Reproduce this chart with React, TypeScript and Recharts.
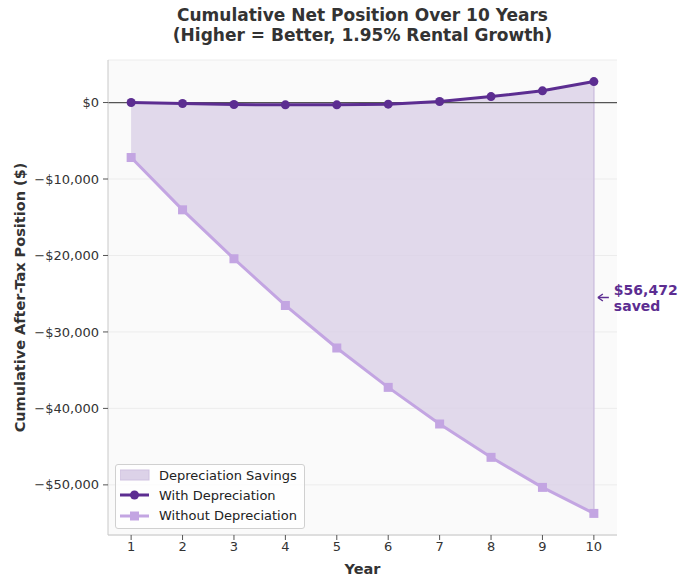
import { ComposedChart, Line, Area, XAxis, YAxis, CartesianGrid, ReferenceLine, ReferenceDot } from 'recharts';

const years = [1, 2, 3, 4, 5, 6, 7, 8, 9, 10];
const withDepreciation = [0, -130, -260, -300, -300, -210, 130, 780, 1530, 2740];
const withoutDepreciation = [-7190, -14030, -20430, -26540, -32100, -37250, -42040, -46400, -50330, -53732];
const yTicks = [0, -10000, -20000, -30000, -40000, -50000];

const DARK = '#5c2d91';
const LIGHT = '#c3a5e2';
const FILL = '#dcd2e8';
const FONT = '"DejaVu Sans", sans-serif';

const data = years.map((year, i) => ({
  year,
  withDep: withDepreciation[i],
  withoutDep: withoutDepreciation[i],
  savings: [withoutDepreciation[i], withDepreciation[i]],
}));

const last = data[data.length - 1];
const saved = last.withDep - last.withoutDep;

const fmtMoney = (v: number) => {
  const s = '$' + Math.abs(v).toLocaleString('en-US');
  return v < 0 ? '\u2212' + s : s;
};

const SquareDot = (props: any) => {
  const { cx, cy, index } = props;
  if (cx == null || cy == null) return null;
  return <rect key={'sq' + index} x={cx - 4.5} y={cy - 4.5} width={9} height={9} fill={LIGHT} />;
};

const SavedNote = (props: any) => {
  const { cx, cy } = props;
  return (
    <g>
      <line x1={cx + 15} y1={cy} x2={cx + 5} y2={cy} stroke={DARK} strokeWidth={1.5} />
      <path d={`M ${cx + 4} ${cy} L ${cx + 9} ${cy - 3.5} M ${cx + 4} ${cy} L ${cx + 9} ${cy + 3.5}`} stroke={DARK} strokeWidth={1.5} fill="none" />
      <text x={cx + 20} y={cy - 3} fill={DARK} fontFamily={FONT} fontSize={14} fontWeight="bold">
        {fmtMoney(saved)}
      </text>
      <text x={cx + 20} y={cy + 13} fill={DARK} fontFamily={FONT} fontSize={14} fontWeight="bold">
        saved
      </text>
    </g>
  );
};

const LegendBox = () => (
  <div
    style={{
      position: 'absolute',
      left: 115,
      top: 464,
      width: 190,
      height: 65,
      background: 'rgba(255,255,255,0.8)',
      border: '1px solid #d0d0d0',
      borderRadius: 3,
      boxSizing: 'border-box',
      fontFamily: FONT,
      fontSize: 13,
      color: '#222',
    }}
  >
    {[
      { label: 'Depreciation Savings', kind: 'patch' },
      { label: 'With Depreciation', kind: 'circle' },
      { label: 'Without Depreciation', kind: 'square' },
    ].map((item, i) => (
      <div key={item.label} style={{ position: 'absolute', left: 4, top: 0 + i * 20.3, height: 20, display: 'flex', alignItems: 'center', whiteSpace: 'nowrap' }}>
        <svg width={30} height={14} style={{ marginRight: 9 }}>
          {item.kind === 'patch' && <rect x={0} y={2} width={29} height={10} fill={FILL} stroke="#cfc2e0" />}
          {item.kind === 'circle' && (
            <>
              <line x1={0} y1={7} x2={29} y2={7} stroke={DARK} strokeWidth={3} />
              <circle cx={14.5} cy={7} r={4.5} fill={DARK} />
            </>
          )}
          {item.kind === 'square' && (
            <>
              <line x1={0} y1={7} x2={29} y2={7} stroke={LIGHT} strokeWidth={3} />
              <rect x={10} y={2.5} width={9} height={9} fill={LIGHT} />
            </>
          )}
        </svg>
        <span>{item.label}</span>
      </div>
    ))}
  </div>
);

const App = () => {
  return (
    <div style={{ position: 'absolute', left: 0, top: 0, width: 692, height: 579, background: '#fff' }}>
      <div
        style={{
          position: 'absolute',
          left: 108,
          top: 5,
          width: 509,
          textAlign: 'center',
          fontFamily: FONT,
          fontWeight: 'bold',
          fontSize: 17,
          lineHeight: '20px',
          color: '#333',
        }}
      >
        Cumulative Net Position Over 10 Years
        <br />
        (Higher = Better, 1.95% Rental Growth)
      </div>
      <ComposedChart width={692} height={579} data={data} margin={{ top: 60, right: 75, bottom: 0, left: 10 }}>
        <CartesianGrid vertical={false} stroke="#ececec" fill="#fafafa" />
        <XAxis
          dataKey="year"
          type="number"
          domain={[0.55, 10.45]}
          ticks={years}
          allowDataOverflow
          height={44}
          tickSize={5}
          tickMargin={2}
          stroke="#c8c8c8"
          tick={{ fill: '#333', fontSize: 13, fontFamily: FONT }}
          tickLine={{ stroke: '#555' }}
          label={{
            content: (p: any) => (
              <text x={p.viewBox.x + p.viewBox.width / 2} y={p.viewBox.y + 39} textAnchor="middle" fontFamily={FONT} fontSize={14.5} fontWeight="bold" fill="#333">
                Year
              </text>
            ),
          }}
        />
        <YAxis
          type="number"
          domain={[-56556, 5564]}
          ticks={yTicks}
          allowDataOverflow
          width={98}
          tickSize={5}
          tickMargin={4}
          stroke="#c8c8c8"
          tickFormatter={fmtMoney}
          tick={{ fill: '#333', fontSize: 13, fontFamily: FONT }}
          tickLine={{ stroke: '#555' }}
          label={{
            content: (p: any) => {
              const cy = p.viewBox.y + p.viewBox.height / 2;
              return (
                <text x={25} y={cy} transform={`rotate(-90 25 ${cy})`} textAnchor="middle" fontFamily={FONT} fontSize={14.5} fontWeight="bold" fill="#333">
                  Cumulative After-Tax Position ($)
                </text>
              );
            },
          }}
        />
        <Area dataKey="savings" type="linear" stroke="none" fill={FILL} fillOpacity={0.85} isAnimationActive={false} activeDot={false} />
        <ReferenceLine
          segment={[{ x: last.year, y: last.withoutDep }, { x: last.year, y: last.withDep }]}
          stroke="#cfc2e0"
          strokeWidth={1.5}
        />
        <ReferenceLine y={0} stroke="#555" strokeWidth={1.2} />
        <Line
          dataKey="withoutDep"
          type="linear"
          stroke={LIGHT}
          strokeWidth={3}
          dot={SquareDot}
          activeDot={false}
          isAnimationActive={false}
        />
        <Line
          dataKey="withDep"
          type="linear"
          stroke={DARK}
          strokeWidth={3}
          dot={{ r: 4.5, fill: DARK, stroke: DARK, strokeWidth: 0 }}
          activeDot={false}
          isAnimationActive={false}
        />
        <ReferenceDot x={last.year} y={(last.withDep + last.withoutDep) / 2} shape={SavedNote} ifOverflow="visible" />
      </ComposedChart>
      <LegendBox />
    </div>
  );
};

export default App;
